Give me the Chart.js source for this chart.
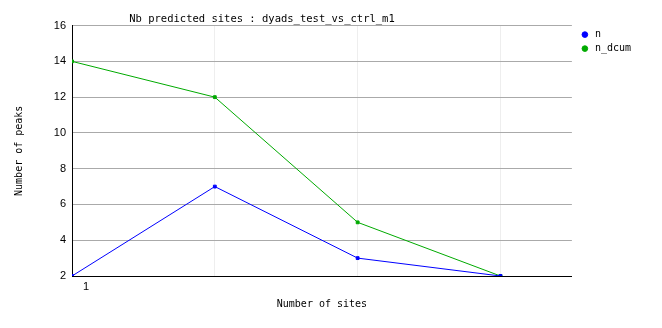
<!DOCTYPE html>
<html>
<head>
<meta charset="utf-8">
<script src="https://cdn.jsdelivr.net/npm/chart.js@4"></script>
<style>
  body { margin: 0; background: #fff; }
  #myChart { display: block; }
</style>
</head>
<body>
<canvas id="myChart" width="662" height="328"></canvas>
<script>
var xPositions = [0, 1, 2, 3];
var xTickLabels = ['1', '', '', ''];
var nValues = [2, 7, 3, 2];
var nDcumValues = [14, 12, 5, 2];

function toPoints(vals) {
  return vals.map(function (v, i) { return { x: xPositions[i], y: v }; });
}

// the original title sits left of the plot centre, legend a bit further right
var nudgeBoxes = {
  id: 'nudgeBoxes',
  afterLayout: function (chart) {
    var t = chart.titleBlock;
    if (t) { t.left -= 63; t.right -= 63; }
    var l = chart.legend;
    if (l) { l.left += 4; l.right += 4; }
  }
};

var ctx = document.getElementById('myChart').getContext('2d');
var myChart = new Chart(ctx, {
  type: 'line',
  data: {
    datasets: [{
      label: 'n',
      data: toPoints(nValues),
      borderColor: '#0000ff',
      backgroundColor: '#0000ff',
      borderWidth: 1,
      pointStyle: 'rect',
      pointRadius: 2,
      tension: 0
    }, {
      label: 'n_dcum',
      data: toPoints(nDcumValues),
      borderColor: '#00aa00',
      backgroundColor: '#00aa00',
      borderWidth: 1,
      pointStyle: 'rect',
      pointRadius: 2,
      tension: 0
    }]
  },
  plugins: [nudgeBoxes],
  options: {
    responsive: false,
    animation: false,
    layout: { padding: { left: 13, right: 25, top: 0, bottom: 0 } },
    plugins: {
      title: {
        display: true,
        text: 'Nb predicted sites : dyads_test_vs_ctrl_m1',
        color: '#000',
        font: { family: 'DejaVu Sans Mono', size: 10.5, weight: 'normal' },
        padding: { top: 13, bottom: 0 }
      },
      legend: {
        position: 'right',
        align: 'start',
        fullSize: false,
        labels: {
          usePointStyle: true,
          pointStyle: 'circle',
          boxWidth: 15,
          boxHeight: 4,
          padding: 4,
          color: '#000',
          font: { family: 'DejaVu Sans Mono', size: 10, lineHeight: 1 }
        }
      },
      tooltip: { enabled: false }
    },
    scales: {
      x: {
        type: 'linear',
        min: 0,
        max: 3.5,
        afterBuildTicks: function (scale) {
          scale.ticks = xPositions.map(function (v) { return { value: v }; });
        },
        afterFit: function (scale) { scale.height = 52; },
        ticks: {
          autoSkip: false,
          maxRotation: 0,
          labelOffset: 14,
          padding: 4,
          color: '#000',
          font: { family: 'Liberation Sans', size: 11 },
          callback: function (v, i) { return xTickLabels[i]; }
        },
        grid: {
          color: function (c) { return c.tick && c.tick.value === 0 ? 'rgba(0,0,0,0)' : '#eeeeee'; },
          drawTicks: false
        },
        border: { color: '#000', width: 1 },
        title: {
          display: true,
          text: 'Number of sites',
          color: '#000',
          font: { family: 'DejaVu Sans Mono', size: 10 },
          padding: { top: 6, bottom: 18 }
        }
      },
      y: {
        min: 2,
        max: 16,
        ticks: {
          stepSize: 2,
          padding: 6,
          color: '#000',
          font: { family: 'Liberation Sans', size: 11 }
        },
        afterFit: function (scale) { scale.width = 59; },
        grid: { color: '#aaaaaa', drawTicks: false },
        border: { color: '#000', width: 1 },
        title: {
          display: true,
          text: 'Number of peaks',
          color: '#000',
          font: { family: 'DejaVu Sans Mono', size: 10 },
          padding: 0
        }
      }
    }
  }
});
</script>
</body>
</html>
